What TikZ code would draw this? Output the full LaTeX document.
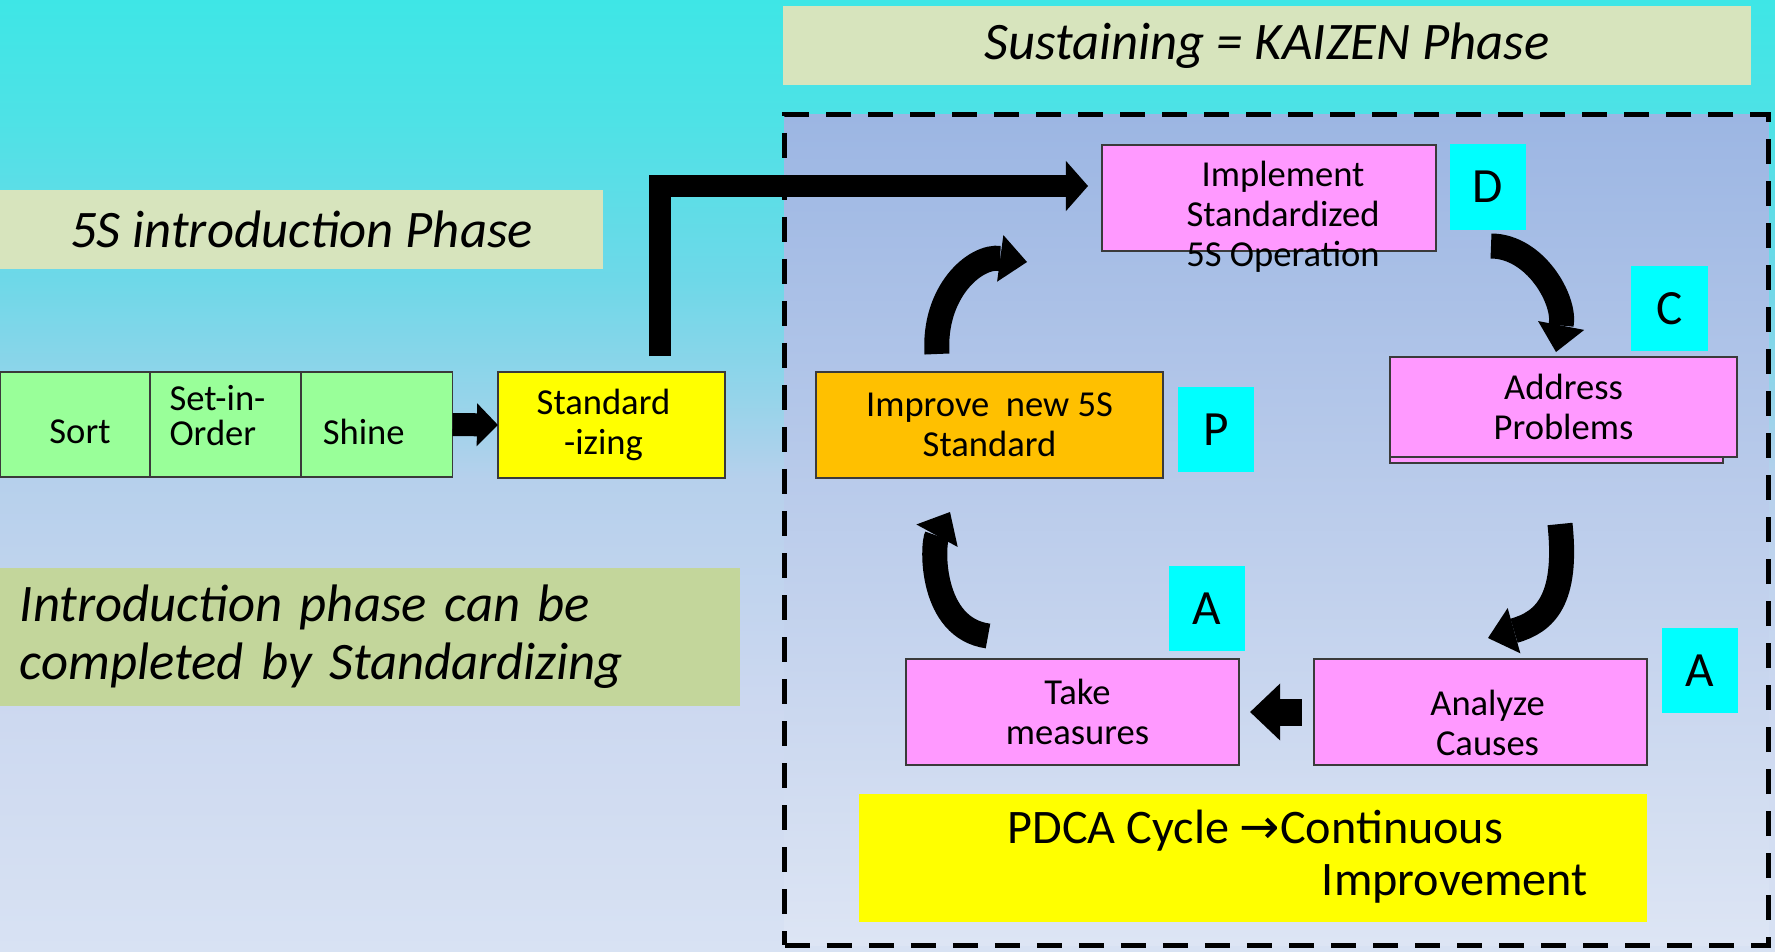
\documentclass[tikz,border=0pt]{standalone}
\usepackage{fontspec}
\setmainfont{Carlito}
\newfontfamily\arrowfont{DejaVu Sans}
\usetikzlibrary{arrows.meta}
\definecolor{pinkc}{HTML}{FF99FF}
\definecolor{greenc}{HTML}{99FF99}
\definecolor{yellowc}{HTML}{FFFF00}
\definecolor{orangec}{HTML}{FFC000}
\definecolor{cyanc}{HTML}{00FFFF}
\definecolor{titlec}{HTML}{D7E4BD}
\definecolor{introc}{HTML}{C3D69B}
\definecolor{kztop}{HTML}{9CB6E3}
\definecolor{kzbot}{HTML}{DDE5F4}
\definecolor{edgec}{HTML}{3A3A3A}
\pgfdeclareverticalshading{slidebg}{100bp}{rgb(0bp)=(0.847,0.886,0.953); rgb(25bp)=(0.847,0.886,0.953); rgb(38.2bp)=(0.8,0.847,0.941); rgb(49.8bp)=(0.714,0.816,0.925); rgb(54bp)=(0.588,0.831,0.918); rgb(60.3bp)=(0.431,0.847,0.91); rgb(68.7bp)=(0.306,0.886,0.902); rgb(75bp)=(0.243,0.902,0.902); rgb(100bp)=(0.243,0.902,0.902)}
\newcommand\bodysize{\fontsize{10.4pt}{11.4pt}\selectfont}
\begin{document}
\begin{tikzpicture}[x=0.01cm,y=-0.01cm,
  cell/.style={draw=edgec, line width=0.5pt, inner sep=0pt, outer sep=0pt, align=center, font=\bodysize},
  pinkbox/.style={cell, fill=pinkc},
  boxtext/.style={font=\bodysize, align=center, inner sep=0pt},
  letter/.style={fill=cyanc, inner sep=0pt, outer sep=0pt, minimum width=0.76cm, minimum height=0.85cm, font=\fontsize{14pt}{16pt}\selectfont},
  banner/.style={fill=titlec, inner sep=0pt, outer sep=0pt, font=\fontsize{15pt}{16.5pt}\selectfont\itshape},
  kzframe/.style={draw=black, line width=1.4pt, dash pattern=on 0.25cm off 0.17cm, top color=kztop, bottom color=kzbot, inner sep=0pt},
  larrow/.style={line width=0.22cm, -{Triangle[length=0.22cm,width=0.50cm,line width=0pt]}},
  blkone/.style={line width=0.23cm, -{Triangle[length=0.21cm,width=0.43cm,line width=0pt]}},
  blktwo/.style={line width=0.27cm, -{Triangle[length=0.30cm,width=0.57cm,line width=0pt]}},
  curvearrow/.style={line width=0.25cm, -{Triangle[length=0.27cm,width=0.47cm,line width=0pt]}}
]
\useasboundingbox (0,0) rectangle (1775,951);
\shade[shading=slidebg] (0,0) rectangle (1775,951);

% Kaizen frame
\node[kzframe, minimum width=9.83cm, minimum height=8.30cm] (kz) at (1276.5,530) {};

% banners
\node[banner, minimum width=9.68cm, minimum height=0.79cm] (sus) at (1267,45.5) {Sustaining = KAIZEN Phase};
\node[banner, minimum width=6.03cm, minimum height=0.79cm] (intro) at (301.5,229.5) {5S introduction Phase};
\node[banner, fill=introc, minimum width=7.40cm, minimum height=1.38cm, text width=7.0cm, align=left] (note) at (370,637) {Introduction phase can be\\completed by Standardizing};

% 5S introduction steps
\node[cell, fill=greenc, minimum width=1.50cm, minimum height=1.05cm,
  label={[boxtext, xshift=0.05cm, yshift=-0.07cm]center:Sort}] (sort) at (75,424.5) {};
\node[cell, fill=greenc, minimum width=1.51cm, minimum height=1.05cm,
  label={[boxtext, align=left, font=\fontsize{10.4pt}{10pt}\selectfont, xshift=-0.08cm, yshift=0.09cm]center:{Set-in-\\Order}}] (setin) at (225.5,424.5) {};
\node[cell, fill=greenc, minimum width=1.515cm, minimum height=1.05cm,
  label={[boxtext, xshift=-0.13cm, yshift=-0.07cm]center:Shine}] (shine) at (376.75,424.5) {};
\node[cell, fill=yellowc, minimum width=2.27cm, minimum height=1.06cm,
  label={[boxtext, xshift=-0.08cm]center:{Standard\\-izing}}] (std) at (611.5,425) {};

% L arrow
\coordinate (Ls) at (660,356);
\coordinate (Le) at (1088,186);
\draw[larrow] (Ls) |- (Le);

% PDCA boxes
\node[pinkbox, minimum width=3.34cm, minimum height=1.06cm,
  label={[boxtext, xshift=0.14cm, yshift=-0.19cm]center:{Implement\\Standardized\\5S Operation}}] (impl) at (1269,198) {};
\node[letter] (D) at (1488,187) {D};
\node[letter] (C) at (1669.5,308.5) {C};
\node[pinkbox, minimum width=3.33cm, minimum height=0.93cm] (addrB) at (1556.5,416.5) {};
\node[pinkbox, minimum width=3.47cm, minimum height=1.00cm] (addr) at (1563.5,407) {Address\\Problems};
\node[cell, fill=orangec, minimum width=3.47cm, minimum height=1.06cm] (impr) at (989.5,425) {Improve~ new 5S\\Standard};
\node[letter] (P) at (1216,429.5) {P};
\node[letter] (A1) at (1207,608.5) {A};
\node[letter] (A2) at (1700,670.5) {A};
\node[pinkbox, minimum width=3.33cm, minimum height=1.06cm,
  label={[boxtext, xshift=0.05cm]center:{Take\\measures}}] (take) at (1072.5,712) {};
\node[pinkbox, minimum width=3.33cm, minimum height=1.06cm,
  label={[boxtext, xshift=0.07cm, yshift=-0.11cm]center:{Analyze\\Causes}}] (anal) at (1480.5,712) {};
\node[fill=yellowc, inner sep=0pt, minimum width=7.88cm, minimum height=1.28cm] (pdca) at (1253,858) {};
\node[anchor=west, align=left, inner sep=0pt, font=\fontsize{13.7pt}{14.8pt}\selectfont] (pdcaT) at (1007,857) {PDCA Cycle {\arrowfont →}Continuous\\\hspace*{3.14cm}Improvement};

% straight block arrows
\draw[blkone] (shine.east) -- (std.west);
\draw[blktwo, shorten <=0.12cm, shorten >=0.11cm] (anal.west) -- (take.east);

% curved arrows
\coordinate (c1s) at (937,354); \coordinate (c1e) at (1027,262);
\draw[curvearrow] (c1s) .. controls (933,292) and (975,255) .. (c1e);
\coordinate (c2s) at (1491,246); \coordinate (c2e) at (1556,352);
\draw[curvearrow] (c2s) .. controls (1535,246) and (1566,300) .. (c2e);
\coordinate (c3s) at (1560,524); \coordinate (c3e) at (1488,638);
\draw[curvearrow] (c3s) .. controls (1568,600) and (1545,622) .. (c3e);
\coordinate (c4s) at (988,636); \coordinate (c4e) at (950,512);
\draw[curvearrow] (c4s) .. controls (930,628) and (932,545) .. (c4e);
\end{tikzpicture}
\end{document}
